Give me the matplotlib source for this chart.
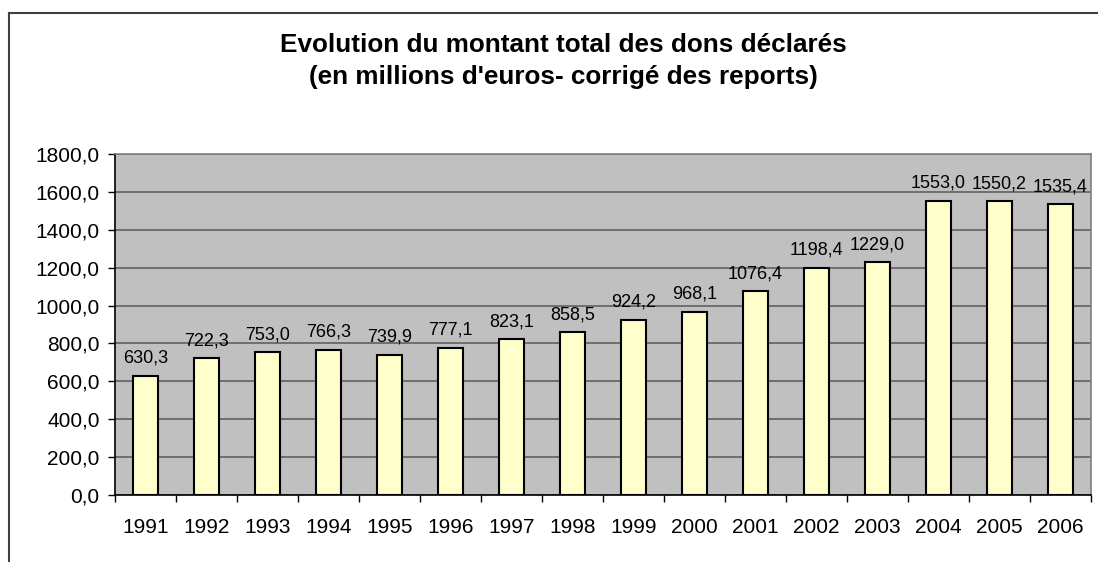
import matplotlib
matplotlib.use("Agg")
import matplotlib.pyplot as plt
from matplotlib.lines import Line2D
import numpy as np

years = ["1991", "1992", "1993", "1994", "1995", "1996", "1997", "1998",
         "1999", "2000", "2001", "2002", "2003", "2004", "2005", "2006"]
values = [630.3, 722.3, 753.0, 766.3, 739.9, 777.1, 823.1, 858.5,
          924.2, 968.1, 1076.4, 1198.4, 1229.0, 1553.0, 1550.2, 1535.4]
yticks = [0, 200, 400, 600, 800, 1000, 1200, 1400, 1600, 1800]
title = "Evolution du montant total des dons déclarés\n(en millions d'euros- corrigé des reports)"

plt.rcParams['font.family'] = ['Liberation Sans', 'DejaVu Sans']

W, H = 1098, 562
fig = plt.figure(figsize=(W / 100, H / 100), dpi=100)
fig.patch.set_facecolor('white')

ax = fig.add_axes([115 / W, 1 - 495 / H, 976 / W, 341 / H])
ax.set_facecolor('#C0C0C0')

x = np.arange(len(years))
ax.bar(x, values, width=0.4, color='#FFFFCC', edgecolor='black', linewidth=1.5, zorder=3)

for xi, v in zip(x, values):
    ax.annotate(f"{v:.1f}".replace('.', ','), (xi, v), xytext=(0, 6.5),
                textcoords='offset points', ha='center', va='bottom',
                fontsize=13, color='black', zorder=4)

ax.set_xlim(-0.5, len(years) - 0.5)
ax.set_ylim(0, 1800)
ax.set_yticks(yticks)
ax.set_yticklabels([f"{t:.1f}".replace('.', ',') for t in yticks], fontsize=15)
ax.yaxis.grid(True, color='#606060', linewidth=1.2, zorder=1)
ax.set_axisbelow(True)

ax.set_xticks(x)
ax.set_xticklabels(years, fontsize=15)
ax.set_xticks(np.arange(-0.5, len(years)), minor=True)
ax.tick_params(axis='x', which='major', length=0, pad=16.5)
ax.tick_params(axis='x', which='minor', length=5, width=1, color='black', direction='out')
ax.tick_params(axis='y', which='major', length=5, width=1, color='black', direction='out', pad=6)

for s in ['left', 'bottom']:
    ax.spines[s].set_color('black')
    ax.spines[s].set_linewidth(1.2)
for s in ['top', 'right']:
    ax.spines[s].set_color('#808080')
    ax.spines[s].set_linewidth(1.2)

fig.text(563 / W, 1 - 61 / H, title, ha='center', va='center', fontsize=18.8,
         fontweight='bold', linespacing=1.45)

# outer chart frame (top and left edges visible)
fig.add_artist(Line2D([9 / W, 9 / W], [0, 1 - 13 / H], transform=fig.transFigure,
                      color='#404040', linewidth=1.5))
fig.add_artist(Line2D([9 / W, 1], [1 - 13 / H, 1 - 13 / H], transform=fig.transFigure,
                      color='#404040', linewidth=1.5))

fig.savefig('out.png', dpi=100)
